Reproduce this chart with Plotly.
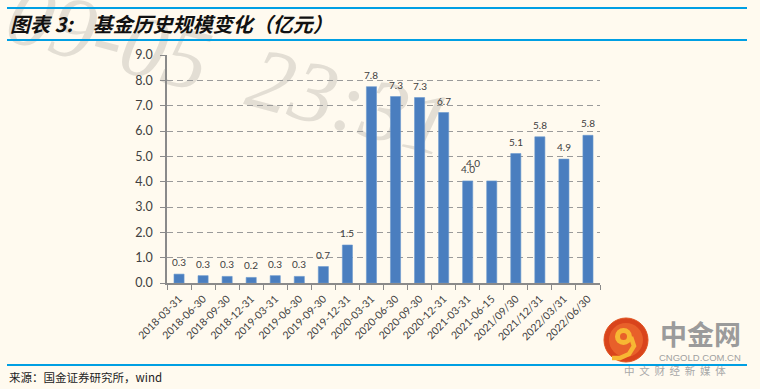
import plotly.graph_objects as go

# ---- data ----
dates = ["2018-03-31", "2018-06-30", "2018-09-30", "2018-12-31", "2019-03-31",
         "2019-06-30", "2019-09-30", "2019-12-31", "2020-03-31", "2020-06-30",
         "2020-09-30", "2020-12-31", "2021-03-31", "2021-06-15", "2021/09/30",
         "2021/12/31", "2022/03/31", "2022/06/30"]
values = [0.35, 0.29, 0.26, 0.22, 0.29, 0.26, 0.65, 1.50, 7.75, 7.36,
          7.32, 6.73, 4.03, 4.03, 5.11, 5.77, 4.89, 5.83]
labels = ["0.3", "0.3", "0.3", "0.2", "0.3", "0.3", "0.7", "1.5", "7.8", "7.3",
          "7.3", "6.7", "4.0", "4.0", "5.1", "5.8", "4.9", "5.8"]
y_ticks = [0, 1, 2, 3, 4, 5, 6, 7, 8, 9]

title_text = "图表 3:\u3000基金历史规模变化（亿元）"
source_text = "来源：国金证券研究所，wind"
watermark_text = "09-05  23:31"

# ---- geometry helpers (pixel -> paper) ----
W, H = 760, 389
L, R, T, B = 167, 600, 55, 283
def px(x):
    return (x - L) / (R - L)
def py(y):
    return (B - y) / (B - T)

BG = "#FFFAEF"
BLUE = "#009FE3"
TXT = "#404040"

fig = go.Figure()
fig.add_trace(go.Bar(
    x=dates, y=values,
    marker=dict(color="#4A7EBF", line=dict(color="#6A98CF", width=0.6)),
    width=0.42,
    hoverinfo="x+y",
))

annotations = []
# data labels
label_dx = {13: -19}
label_dy = {13: 6}
for i, (d, v, t) in enumerate(zip(dates, values, labels)):
    annotations.append(dict(
        x=d, y=v, xref="x", yref="y", text=t, showarrow=False,
        yanchor="bottom", yshift=4 + label_dy.get(i, 0), xshift=label_dx.get(i, 0),
        font=dict(family="Lato, Liberation Sans, sans-serif", size=10, color=TXT),
    ))

# title
annotations.append(dict(
    x=px(8), y=py(23), xref="paper", yref="paper", xanchor="left", yanchor="middle",
    text="<b><i>" + title_text + "</i></b>", showarrow=False,
    font=dict(family="Noto Sans CJK SC, sans-serif", size=20, color="#111111"),
))

# source
annotations.append(dict(
    x=px(7), y=py(377), xref="paper", yref="paper", xanchor="left", yanchor="middle",
    text=source_text, showarrow=False,
    font=dict(family="Noto Sans CJK SC, sans-serif", size=11.5, color="#222222"),
))

# logo texts
annotations.append(dict(
    x=px(700), y=py(333), xref="paper", yref="paper", xanchor="center", yanchor="middle",
    text="<b>中金网</b>", showarrow=False,
    font=dict(family="Noto Sans CJK SC, sans-serif", size=27, color="#9B9B9B"),
))
annotations.append(dict(
    x=px(700), y=py(357.5), xref="paper", yref="paper", xanchor="center", yanchor="middle",
    text="CNGOLD.COM.CN", showarrow=False,
    font=dict(family="Liberation Sans, sans-serif", size=9.5, color="#A0A0A0"),
))
annotations.append(dict(
    x=px(675), y=py(371), xref="paper", yref="paper", xanchor="center", yanchor="middle",
    text="中  文  财  经  新  媒  体", showarrow=False,
    font=dict(family="Noto Sans CJK SC, sans-serif", size=10.5, color="#A8A8A8"),
))

shapes = []
# watermark (below the bars)
shapes.append(dict(
    type="rect", xref="paper", yref="paper", layer="below",
    x0=px(222), x1=px(242), y0=py(70), y1=py(50),
    line=dict(width=0), fillcolor="rgba(0,0,0,0)",
    label=dict(text=watermark_text, textposition="middle center", textangle=15,
               font=dict(family="Liberation Serif, serif", size=88,
                         color="#E3DED4", style="italic")),
))
# blue rules
for yy in (8, 40, 365):
    shapes.append(dict(type="line", xref="paper", yref="paper",
                       x0=px(7), x1=px(747), y0=py(yy), y1=py(yy),
                       line=dict(color=BLUE, width=2.2)))
# logo circle
shapes.append(dict(type="circle", xref="paper", yref="paper",
                   x0=px(604), x1=px(648), y0=py(362), y1=py(318),
                   fillcolor="#D9441C", line=dict(color="#E0521E", width=1)))
shapes.append(dict(type="circle", xref="paper", yref="paper",
                   x0=px(609), x1=px(643), y0=py(357), y1=py(323),
                   fillcolor="#E8602A", line=dict(width=0)))
# swirl head
shapes.append(dict(type="circle", xref="paper", yref="paper",
                   x0=px(615), x1=px(632), y0=py(345), y1=py(328),
                   fillcolor="#F7B733", line=dict(width=0)))
shapes.append(dict(type="circle", xref="paper", yref="paper",
                   x0=px(620), x1=px(627), y0=py(340), y1=py(333),
                   fillcolor="#E8602A", line=dict(width=0)))
# swirl tail
pts = [(631, 337), (634, 346), (629, 354), (620, 358), (612, 358)]
path = "M " + " L ".join(f"{px(a):.4f},{py(b):.4f}" for a, b in pts)
shapes.append(dict(type="path", xref="paper", yref="paper", path=path,
                   line=dict(color="#F7B733", width=4.5)))

fig.update_layout(
    width=W, height=H,
    margin=dict(l=L, r=W - R, t=T, b=H - B),
    paper_bgcolor=BG, plot_bgcolor="rgba(0,0,0,0)",
    showlegend=False,
    bargap=0.58,
    annotations=annotations,
    shapes=shapes,
    font=dict(family="Lato, Liberation Sans, sans-serif", color=TXT),
)
fig.update_xaxes(
    type="category", tickangle=-45, tickson="boundaries",
    ticks="outside", ticklen=5, tickcolor="#8A8A8A", tickwidth=1.2,
    showline=True, linecolor="#8A8A8A", linewidth=1.5,
    showgrid=False, ticklabelstandoff=4,
    tickfont=dict(family="Lato, Liberation Sans, sans-serif", size=10.5, color=TXT),
)
fig.update_yaxes(
    range=[0, 9], tickvals=y_ticks, tickformat=".1f",
    ticks="outside", ticklen=5, tickcolor="#8A8A8A", tickwidth=1.2,
    showline=True, linecolor="#8A8A8A", linewidth=1.5,
    showgrid=True, gridcolor="#9A9A9A", gridwidth=1.4, griddash="6px,4px",
    zeroline=False, ticklabelstandoff=5,
    tickfont=dict(family="Lato, Liberation Sans, sans-serif", size=12.5, color=TXT),
)

fig.write_html(
    "out.html",
    config={"displayModeBar": False},
    post_script="document.body.style.margin='0';document.body.style.padding='0';"
                "document.body.style.overflow='hidden';",
)
